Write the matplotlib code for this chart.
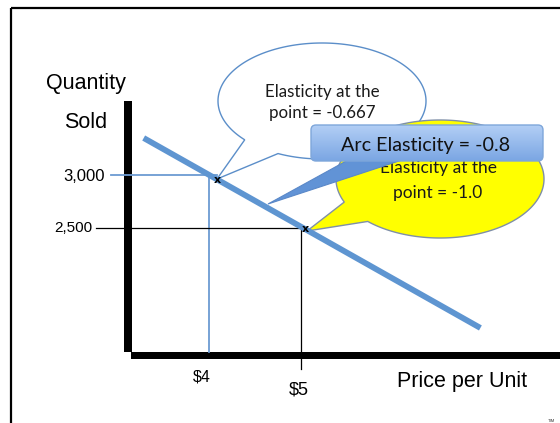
import numpy as np
import matplotlib
matplotlib.use("Agg")
import matplotlib.pyplot as plt
from matplotlib.patches import Rectangle, Polygon, FancyBboxPatch

# ---- data -------------------------------------------------------------
prices = [4, 5]                      # $ per unit
quantities = [3000, 2500]            # units sold
price_labels = ["$4", "$5"]
qty_labels = ["3,000", "2,500"]
demand_price = [3.29, 6.95]          # ends of the demand line
demand_qty = [3349, 1557]
point_price = [4.09, 5.05]           # marked points on the demand line
point_qty = [2953, 2491]
point_elasticity = ["-0.667", "-1.0"]
arc_elasticity = "-0.8"

W, H = 560, 423
fig = plt.figure(figsize=(W / 100, H / 100), dpi=100)

# pixel-space layer for frame, axes bars and call-outs
axp = fig.add_axes([0, 0, 1, 1], zorder=0)
axp.axis("off")

# data layer: price on x, quantity on y
axd = fig.add_axes([0, 0, 1, 1], zorder=1)
axd.patch.set_alpha(0)
axd.axis("off")
px_per_dollar = 92.0
px_per_unit = 53.0 / 500.0
x4, y3000 = 209.0, 175.0
axd.set_xlim(4 - x4 / px_per_dollar, 4 + (W - x4) / px_per_dollar)
axd.set_ylim(3000 - (H - y3000) / px_per_unit, 3000 + y3000 / px_per_unit)


def p_at(px):
    return 4 + (px - x4) / px_per_dollar


def q_at(py):
    return 3000 - (py - y3000) / px_per_unit


# ---- frame and thick axes -------------------------------------------
axp.plot([11, 11], [H, 8.5], color="black", lw=1.6, solid_capstyle="butt")
axp.plot([11, W], [8.5, 8.5], color="black", lw=1.6, solid_capstyle="butt")
axp.add_patch(Rectangle((124, 101), 7.5, 251, color="black", lw=0))
axp.add_patch(Rectangle((131, 352), W - 131, 7.5, color="black", lw=0))


# ---- call-outs ----------------------------------------------------------
def callout(cx, cy, a, b, t_a, t_b, tip, face, edge, z):
    """Ellipse bubble whose pointer leaves the rim between angles t_a < t_b."""
    ts = np.radians(np.linspace(t_b, t_a + 360, 300))
    pts = [(cx + a * np.cos(t), cy + b * np.sin(t)) for t in ts]
    pts.append(tip)
    axp.add_patch(Polygon(pts, closed=True, facecolor=face, edgecolor=edge,
                          lw=1.0, zorder=z, joinstyle="miter"))


cfont = ["Lato", "DejaVu Sans"]
callout(322, 101, 104, 58, 115, 138, (217, 179), "white", "#5b8ec9", 2)
axp.text(322, 92, "Elasticity at the", ha="center", va="center",
         fontsize=12.2, family=cfont, color="#1a1a1a", zorder=2.5)
axp.text(322, 113, f"point = {point_elasticity[0]}", ha="center", va="center",
         fontsize=12.2, family=cfont, color="#1a1a1a", zorder=2.5)

callout(440, 179, 104, 59, 134, 157, (307, 231), "#ffff00", "#7f8fa8", 3)
axp.text(438, 168, "Elasticity at the", ha="center", va="center",
         fontsize=12.5, family=cfont, color="#1a1a1a", zorder=3.5)
axp.text(438, 193, f"point = {point_elasticity[1]}", ha="center", va="center",
         fontsize=12.5, family=cfont, color="#1a1a1a", zorder=3.5)

# arc elasticity box with pointer
axp.add_patch(Polygon([(348, 160), (402, 160), (268, 204)], closed=True,
                      facecolor="#6193d6", edgecolor="#5a88c8", lw=0.8,
                      zorder=4))
box = FancyBboxPatch((311, 125), 232, 36,
                     boxstyle="round,pad=0,rounding_size=5",
                     facecolor="none", edgecolor="#7ea6da", lw=1.0, zorder=5.2)
axp.add_patch(box)
grad = np.linspace(0, 1, 64)[:, None]
top_c = np.array([0.70, 0.81, 0.96])
bot_c = np.array([0.48, 0.65, 0.89])
img = top_c[None, None, :] * (1 - grad[:, :, None]) + bot_c[None, None, :] * grad[:, :, None]
im = axp.imshow(img, extent=(311, 543, 161, 125), origin="upper",
                aspect="auto", zorder=5, interpolation="bilinear")
im.set_clip_path(box)
axp.set_xlim(0, W)
axp.set_ylim(H, 0)
axp.text(426, 145, f"Arc Elasticity = {arc_elasticity}", ha="center",
         va="center", fontsize=14.2, family=cfont, color="#111111", zorder=6)

# ---- guide lines ---------------------------------------------------------
guide_blue = "#6c9bd2"
axd.plot([p_at(111), point_price[0]], [quantities[0], quantities[0]],
         color=guide_blue, lw=1.3)
axd.plot([prices[0], prices[0]], [q_at(178), q_at(352)],
         color=guide_blue, lw=1.3)
axd.plot([p_at(96), prices[1]], [quantities[1], quantities[1]],
         color="black", lw=0.9)
axd.plot([prices[1], prices[1]], [quantities[1], q_at(369)],
         color="black", lw=0.9)

# demand curve
axd.plot(demand_price, demand_qty, color="#5e95d1", lw=4.2,
         solid_capstyle="butt", zorder=3)
for p, q in zip(point_price, point_qty):
    axd.text(p, q, "x", ha="center", va="center", fontsize=8,
             fontweight="bold", color="black", zorder=4)

# ---- labels --------------------------------------------------------------
lfont = ["Liberation Sans", "DejaVu Sans"]
axd.text(p_at(105), quantities[0] - 15, qty_labels[0], ha="right",
         va="center", fontsize=12, family=lfont)
axd.text(p_at(92), quantities[1], qty_labels[1], ha="right",
         va="center", fontsize=11, family=lfont)
axd.text(prices[0] - 0.08, q_at(377), price_labels[0], ha="center",
         va="center", fontsize=11.5, family=lfont)
axd.text(prices[1] - 0.02, q_at(390), price_labels[1], ha="center",
         va="center", fontsize=13, family=lfont)

axp.text(86, 84, "Quantity", ha="center", va="center", fontsize=15.5,
         family=lfont)
axp.text(86, 123, "Sold", ha="center", va="center", fontsize=15.5,
         family=lfont)
axp.text(462, 382, "Price per Unit", ha="center", va="center",
         fontsize=15.5, family=lfont)
axp.text(551, 421, "TIM", ha="center", va="center", fontsize=3,
         family=lfont, color="#333333")

fig.savefig("out.png", dpi=100)
